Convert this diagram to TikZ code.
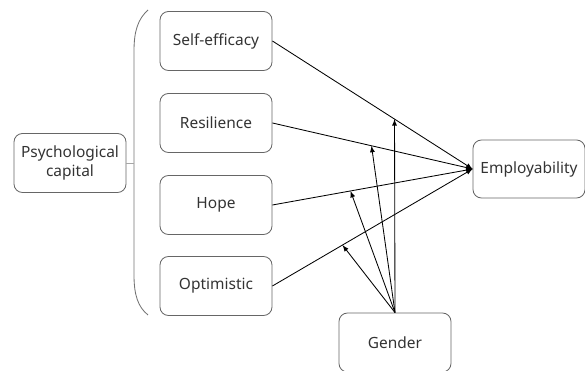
\documentclass[tikz,border=0pt]{standalone}
\usepackage{fontspec}
\setmainfont{Noto Sans}
\begin{document}
\begin{tikzpicture}[>=latex,line width=0.6pt]
    \tikzstyle{every node}=[font=\fontsize{11}{14}\selectfont,text=black!80]
    \tikzstyle{box}=[draw=black!60,rounded corners=6pt,minimum width=2.8cm,minimum height=1.475cm,align=center,inner sep=1pt]

    \useasboundingbox (0,0) rectangle (14.625,9.275);

    \node[box] (psy) at (1.75,5.2) {Psychological \\ capital};

    \node[box] (self) at (5.4,8.25) {Self-efficacy};
    \node[box] (resil) at (5.4,6.2) {Resilience};
    \node[box] (hope) at (5.4,4.15) {Hope};
    \node[box] (optim) at (5.4,2.125) {Optimistic};

    \node[box,minimum height=1.45cm] (emp) at (13.225,5.05) {Employability};
    \node[box] (gender) at (9.875,0.7125) {Gender};

    % bracket
    \draw[black!55] (3.7,9.025) .. controls (3.45,8.8) and (3.35,8.5) .. (3.35,8.0)
    -- (3.35,2.4) .. controls (3.35,1.9) and (3.45,1.6) .. (3.7,1.4);
    \draw[black!35] (psy.east) -- (3.35,5.2);

    \draw[->] (self.east) -- (emp.west) coordinate[pos=0.61] (m1);
    \draw[->] (resil.east) -- (emp.west) coordinate[pos=0.495] (m2);
    \draw[->] (hope.east) -- (emp.west) coordinate[pos=0.39] (m3);
    \draw[->] (optim.east) -- (emp.west) coordinate[pos=0.35] (m4);

    \foreach \m in {m1,m2,m3,m4}
    \draw[->] (gender.north) -- (\m);
\end{tikzpicture}
\end{document}
